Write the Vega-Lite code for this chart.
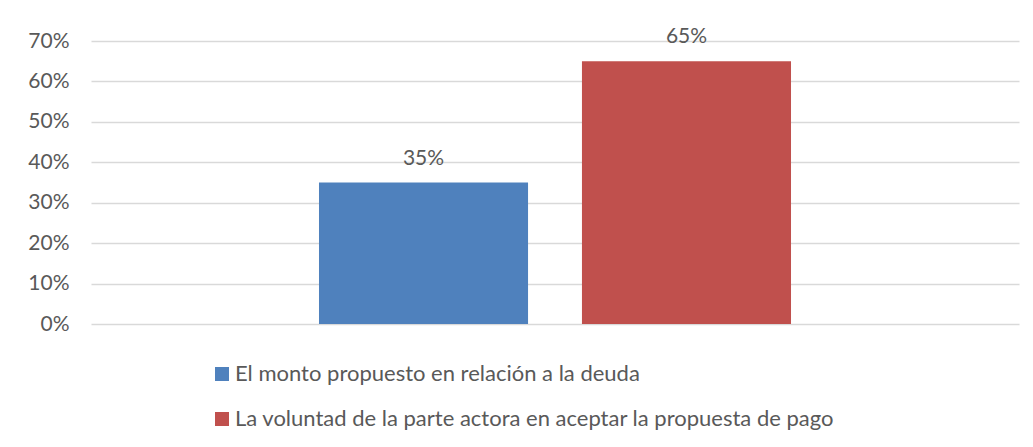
{
  "$schema": "https://vega.github.io/schema/vega-lite/v6.json",
  "autosize": {"type": "none"},
  "width": 928,
  "height": 283,
  "padding": {"left": 91, "top": 41, "right": 14, "bottom": 123},
  "background": "white",
  "data": {"values": [
    {"serie": "El monto propuesto en relación a la deuda", "valor": 0.35},
    {"serie": "La voluntad de la parte actora en aceptar la propuesta de pago", "valor": 0.65}
  ]},
  "encoding": {
    "x": {"field": "serie", "type": "nominal", "axis": null, "sort": null,
      "scale": {"paddingInner": 0.205, "paddingOuter": 0.867, "align": 0.5}},
    "y": {"field": "valor", "type": "quantitative",
      "scale": {"domain": [0, 0.7], "nice": false},
      "axis": {"format": ".0%", "values": [0, 0.1, 0.2, 0.3, 0.4, 0.5, 0.6, 0.7], "title": null,
        "domain": false, "ticks": false, "labelPadding": 22, "labelFont": "Lato", "labelFontSize": 21,
        "labelColor": "#595959", "gridColor": "#d9d9d9", "gridWidth": 1.3}}
  },
  "layer": [
    {"mark": {"type": "bar"},
      "encoding": {
        "color": {"field": "serie", "type": "nominal", "sort": null,
          "scale": {"range": ["#4F81BD", "#C0504D"]},
          "legend": {"title": null, "orient": "none", "legendX": 120, "legendY": 322, "direction": "vertical",
            "symbolType": "square", "symbolSize": 196, "symbolStrokeWidth": 0, "labelFont": "Lato", "labelFontSize": 22,
            "labelColor": "#595959", "rowPadding": 23, "labelOffset": 2, "labelLimit": 0}}
      }},
    {"mark": {"type": "text", "dy": -18, "font": "Lato", "fontSize": 21, "color": "#595959", "baseline": "alphabetic"},
      "encoding": {"text": {"field": "valor", "type": "quantitative", "format": ".0%"}}}
  ],
  "config": {"view": {"stroke": null}}
}
